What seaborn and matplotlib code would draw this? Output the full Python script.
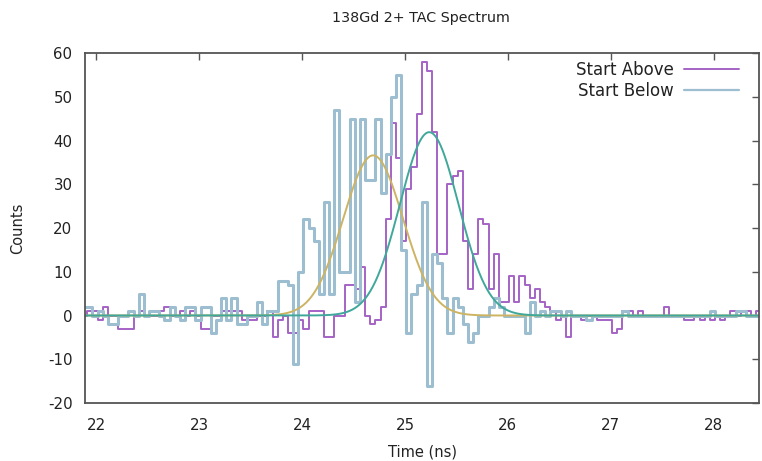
import numpy as np
import pandas as pd
import matplotlib
matplotlib.use("Agg")
import matplotlib.pyplot as plt
import seaborn as sns
from matplotlib.lines import Line2D

# ---- data ----
bin_start = 21.8875      # centre of first TAC bin (ns)
bin_width = 0.05         # ns

start_below = [
    2, 2, 0, 1, 0, -2, -2, 0, 0, 1,
    0, 5, 0, 1, 1, 0, -1, 2, 0, -1,
    2, 2, -1, 2, 2, -4, -1, 4, -1, 4,
    -2, -2, 0, 0, 3, -2, 1, 1, 8, 8,
    7, -11, 10, 22, 20, 17, 5, 26, 5, 47,
    10, 10, 45, 3, 45, 31, 31, 45, 28, 37,
    50, 55, 15, -4, 5, 7, 26, -16, 14, 12,
    4, -4, 4, 2, -2, -6, -4, 0, 0, 2,
    4, 2, 0, 0, 0, 0, -4, 3, 0, 1,
    0, 1, 1, 0, 1, 0, 0, 0, -1, 0,
    0, 0, 0, 0, 0, 1, 0, 0, 0, 0,
    0, 0, 0, 0, 0, 0, 0, 0, 0, 0,
    0, 0, 1, 0, 0, 0, 0, 1, 1, 0,
    0, 0,
]

start_above = [
    0, 1, 1, -1, 2, 0, 0, -3, -3, -3,
    0, 1, 0, 0, 0, 1, 2, 0, 0, 1,
    0, 1, 0, -3, -3, 0, 0, 1, 1, 1,
    1, -1, -1, -1, 0, 0, 1, -5, -1, 0,
    -4, -4, -1, -3, 1, 1, 1, -5, -5, 0,
    0, 7, 7, 6, 11, 0, -2, -1, 2, 22,
    44, 36, 17, 29, 34, 46, 58, 56, 42, 14,
    14, 30, 32, 33, 17, 6, 14, 22, 21, 6,
    14, 3, 3, 9, 3, 9, 7, 4, 6, 3,
    2, 1, -1, 0, -5, 0, 0, -1, 0, 0,
    -1, -1, -1, -4, -3, 1, 1, 0, 1, 0,
    0, 0, 0, 2, 0, 0, 0, -1, -1, 0,
    -1, 0, -1, 0, -1, 0, 1, 0, 1, 1,
    0, 1,
]

# Gaussian fit parameters (amplitude, centre, sigma)
fit_below = (36.6, 24.69, 0.29)
fit_above = (41.9, 25.235, 0.285)

x_ticks = [22, 23, 24, 25, 26, 27, 28]
y_ticks = [-20, -10, 0, 10, 20, 30, 40, 50, 60]

# ---- build tables ----
time = bin_start + bin_width * np.arange(len(start_above))
df = pd.DataFrame({"time": time, "above": start_above, "below": start_below})

t_fine = np.linspace(21.85, 28.5, 800)
def gauss(t, p):
    a, m, s = p
    return a * np.exp(-(t - m) ** 2 / (2 * s ** 2))
df_fit = pd.DataFrame({"t": t_fine,
                       "below": gauss(t_fine, fit_below),
                       "above": gauss(t_fine, fit_above)})

# ---- style ----
sns.set_style("white")
plt.rcParams["font.family"] = ["DejaVu Sans"]

c_above = "#a563c6"
c_below = "#9dbed0"
c_fit_below = "#cdb463"
c_fit_above = "#3fa89a"
c_axis = "#555555"

fig = plt.figure(figsize=(7.62, 4.61), dpi=100)
ax = fig.add_axes([85 / 762, 1 - 403 / 461, (759 - 85) / 762, (403 - 53) / 461])

sns.lineplot(data=df, x="time", y="above", drawstyle="steps-mid",
             color=c_above, lw=1.4, ax=ax, sort=False, estimator=None)
sns.lineplot(data=df, x="time", y="below", drawstyle="steps-mid",
             color=c_below, lw=2.2, ax=ax, sort=False, estimator=None)
sns.lineplot(data=df_fit, x="t", y="below", color=c_fit_below, lw=1.4, ax=ax,
             sort=False, estimator=None)
sns.lineplot(data=df_fit, x="t", y="above", color=c_fit_above, lw=1.4, ax=ax,
             sort=False, estimator=None)

ax.set_xlim(21.89, 28.44)
ax.set_ylim(-20, 60)
ax.set_xticks(x_ticks)
ax.set_yticks(y_ticks)
ax.set_xticklabels([str(v) for v in x_ticks])
ax.set_yticklabels([str(v) for v in y_ticks])
ax.tick_params(direction="in", top=True, right=True, length=5, width=1,
               color=c_axis, labelsize=10.8, labelcolor="#222222")
ax.tick_params(axis="y", labelright=False, pad=9)
ax.tick_params(axis="x", labeltop=False, pad=11)
for sp in ax.spines.values():
    sp.set_visible(True)
    sp.set_color(c_axis)
    sp.set_linewidth(1.3)
ax.set_xlabel("")
ax.set_ylabel("")

fig.text(421 / 762, 1 - 18 / 461, "138Gd 2+ TAC Spectrum", ha="center", va="center",
         fontsize=10.3, color="#222222")
fig.text(422 / 762, 1 - 452 / 461, "Time (ns)", ha="center", va="center",
         fontsize=10.5, color="#222222")
fig.text(18 / 762, 1 - 228 / 461, "Counts", ha="center", va="center",
         rotation=90, fontsize=10.5, color="#222222")

handles = [Line2D([], [], color=c_above, lw=1.4),
           Line2D([], [], color=c_below, lw=1.6)]
leg = ax.legend(handles, ["Start Above", "Start Below"], loc="upper right",
                bbox_to_anchor=(0.988, 1.01), frameon=False, markerfirst=False,
                handlelength=3.3, fontsize=12, labelspacing=0.15,
                handletextpad=0.6, borderaxespad=0.3)
for t in leg.get_texts():
    t.set_color("#222222")

fig.savefig("out.png", dpi=100)
